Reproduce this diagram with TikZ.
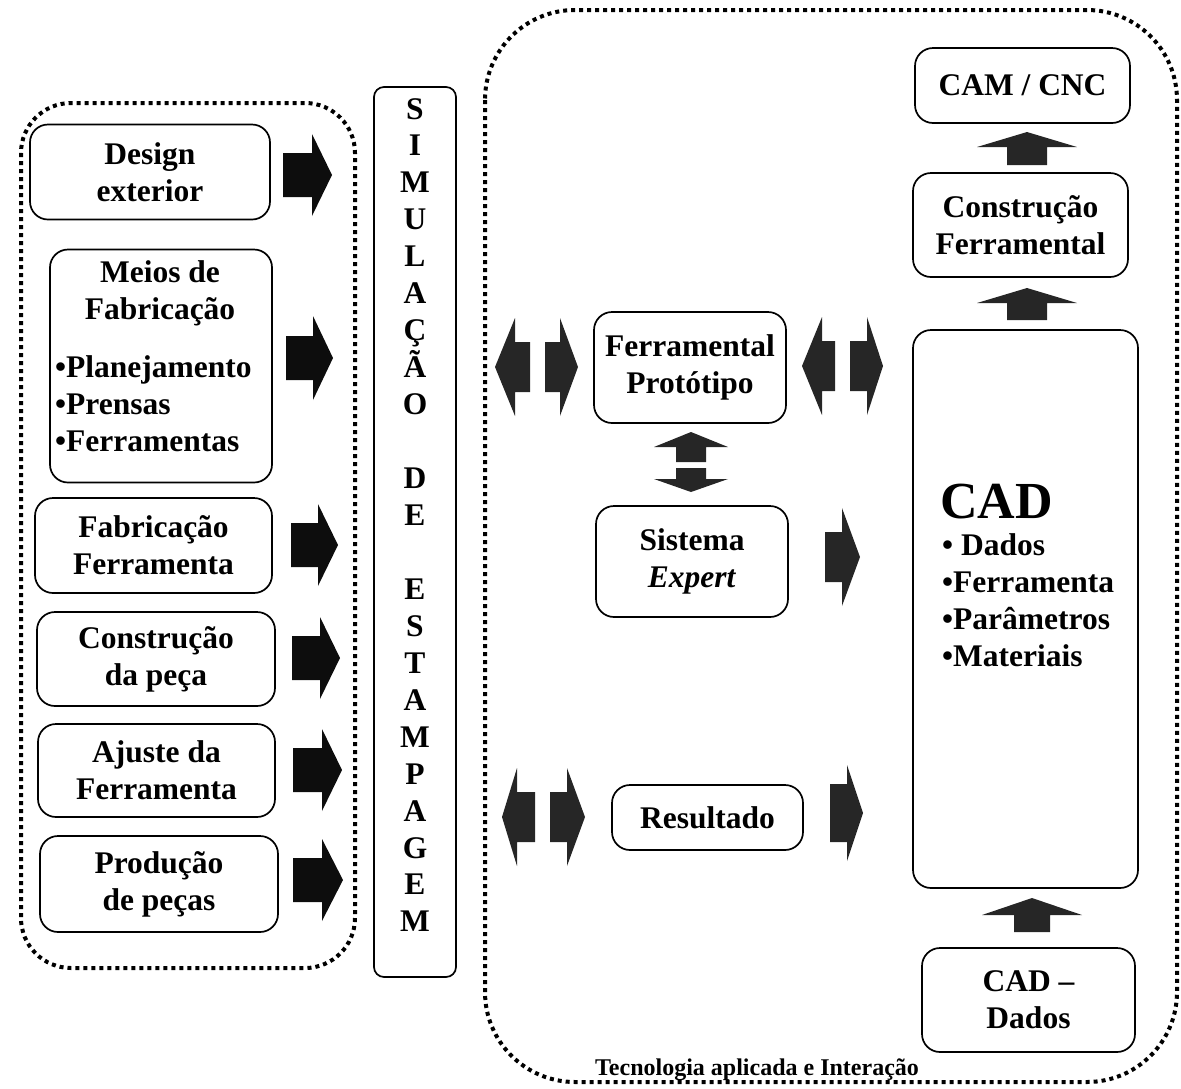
\documentclass[tikz,border=0pt]{standalone}
\usepackage{fontspec}
\setmainfont{Liberation Serif}
% horizontal block arrow: tail x, head-base x, tip x, centre y, shaft half-height, head half-height
\newcommand\harr[7][blk]{\fill[#1] (#2,#5-#6) -- (#3,#5-#6) -- (#3,#5-#7) -- (#4,#5)
  -- (#3,#5+#7) -- (#3,#5+#6) -- (#2,#5+#6) -- cycle;}
% vertical block arrow: centre x, tail y, head-base y, tip y, shaft half-width, head half-width
\newcommand\varr[7][blk]{\fill[#1] (#2-#6,#3) -- (#2-#6,#4) -- (#2-#7,#4) -- (#2,#5)
  -- (#2+#7,#4) -- (#2+#6,#4) -- (#2+#6,#3) -- cycle;}
\begin{document}
\begin{tikzpicture}[x=1pt,y=-1pt,
  box/.style={draw, line width=1.7pt, rounded corners=18pt, inner sep=0pt,
    font=\fontsize{31.5}{37}\selectfont\bfseries, align=center},
  lbl/.style={font=\fontsize{31.5}{37}\selectfont\bfseries, align=center, inner sep=0pt},
  dotline/.style={line width=4pt, dash pattern=on 4pt off 4pt},
  blk/.style={fill=black!95},
  gry/.style={fill=black!85}]
\useasboundingbox (0,0) rectangle (1181,1088);

% dotted groupings
\draw[dotline, rounded corners=50pt] (21,103) rectangle (355,968);
\draw[dotline, rounded corners=90pt] (485,10) rectangle (1177,1082);

% left column
\node[box, minimum width=240pt, minimum height=95pt] (design) at (150,172) {Design\\exterior};
\node[box, minimum width=222pt, minimum height=233pt] (meios) at (161,366) {};
\node[lbl] (meiost) at (160,293) {Meios de\\Fabricação};
\node[lbl, align=left, anchor=west] (meiosl) at (55,404) {•Planejamento\\•Prensas\\•Ferramentas};
\node[box, minimum width=237pt, minimum height=95pt] (fabf) at (153.5,545.5) {Fabricação\\Ferramenta};
\node[box, minimum width=238pt, minimum height=94pt] (cons) at (156,659) {Construção\\da peça};
\node[box, minimum width=237pt, minimum height=93pt] (ajus) at (156.5,770.5) {Ajuste da\\Ferramenta};
\node[box, minimum width=238pt, minimum height=96pt] (prod) at (159,884) {Produção\\de peças};

\harr{283}{312}{332}{175}{22}{41}
\harr{286}{313}{333}{358}{22}{42}
\harr{291}{318}{338}{545}{22}{41}
\harr{292}{320}{340}{658}{22}{41}
\harr{293}{322}{342}{770}{22}{41}
\harr{293}{322}{343}{880}{22}{41}

% vertical simulation column
\node[draw, line width=1.7pt, rounded corners=10pt, minimum width=82pt, minimum height=890pt] (sim) at (415,532) {};
\foreach \ch [count=\i from 0] in {S,I,M,U,L,A,Ç,Ã,O,,D,E,,E,S,T,A,M,P,A,G,E,M}
  \node[lbl, anchor=base] (sim\i) at (415,{119+36.95*\i}) {\ch};

% middle column
\node[box, minimum width=192pt, minimum height=111pt] (ferp) at (690,367.5) {Ferramental\\Protótipo};
\node[box, minimum width=192pt, minimum height=111pt] (sist) at (692,561.5) {Sistema\\\textit{Expert}};
\node[box, minimum width=191pt, minimum height=65pt] (res) at (707.5,817.5) {Resultado};

\harr[gry]{530}{515}{495}{367}{25}{49}
\harr[gry]{545}{560}{578}{367}{25}{49}
\harr[gry]{835}{822}{802}{366}{25}{49}
\harr[gry]{850}{867}{883}{366}{25}{49}
\harr[gry]{825}{842}{860}{557}{25}{49}
\harr[gry]{535}{517}{502}{817}{25}{49}
\harr[gry]{550}{567}{585}{817}{25}{49}
\harr[gry]{830}{847}{863}{813}{29}{48}
\varr[gry]{691}{462}{447}{432}{15}{37}
\varr[gry]{691}{468}{479}{492}{15}{37}

% right column
\node[box, minimum width=215pt, minimum height=75pt] (cam) at (1022.5,85.5) {CAM / CNC};
\node[box, minimum width=215pt, minimum height=104pt] (consf) at (1020.5,225) {Construção\\Ferramental};
\node[box, minimum width=225pt, minimum height=558pt] (cad) at (1025.5,609) {};
\node[anchor=base west, inner sep=0pt, font=\fontsize{52}{52}\selectfont\bfseries] (cadt) at (940,518) {CAD};
\node[lbl, align=left, anchor=north west] (cadl) at (942,533) {• Dados\\•Ferramenta\\•Parâmetros\\•Materiais};
\node[box, minimum width=213pt, minimum height=104pt] (cadd) at (1028.5,1000) {CAD –\\Dados};

\varr[gry]{1027}{165}{147}{132}{20}{50}
\varr[gry]{1027}{320}{303}{288}{20}{50}
\varr[gry]{1032}{932}{915}{898}{18}{50}

\node[anchor=base, inner sep=0pt, font=\fontsize{24}{26}\selectfont\bfseries] (tec) at (757,1075) {Tecnologia aplicada e Interação};
\end{tikzpicture}
\end{document}
